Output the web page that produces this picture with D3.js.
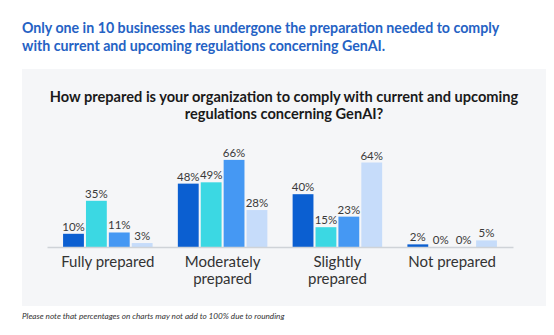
<!DOCTYPE html>
<html>
<head>
<meta charset="utf-8">
<script src="https://cdn.jsdelivr.net/npm/d3@7"></script>
<style>
  body { margin: 0; background: #fff; }
  svg { display: block; }
</style>
</head>
<body>
<div id="chart"></div>
<script>
// data
const categories = [["Fully prepared"], ["Moderately", "prepared"], ["Slightly", "prepared"], ["Not prepared"]]
const seriesNames = ["s1", "s2", "s3", "s4"]
const s1 = [10, 48, 40, 2]
const s2 = [35, 49, 15, 0]
const s3 = [11, 66, 23, 0]
const s4 = [3, 28, 64, 5]
const colors = ["#0b5fd1", "#3bd8e3", "#4598f3", "#c6dcfa"]

const W = 554, H = 335
const svg = d3.select('#chart').append('svg')
  .attr('width', W).attr('height', H)

// panel
svg.append('rect')
  .attr('x', 22).attr('y', 69).attr('width', 524).attr('height', 237)
  .attr('fill', '#f5f6f8')

// headline
const head = svg.append('text')
  .attr('x', 22).attr('fill', '#2562c4')
  .style('font-family', 'Lato').style('font-weight', 700).style('font-size', '14.2px')
head.append('tspan').attr('x', 22).attr('y', 33).text('Only one in 10 businesses has undergone the preparation needed to comply')
head.append('tspan').attr('x', 22).attr('y', 51).text('with current and upcoming regulations concerning GenAI.')

// chart title
const sub = svg.append('text')
  .attr('text-anchor', 'middle').attr('fill', '#1a1a1a')
  .style('font-family', 'Lato').style('font-weight', 700).style('font-size', '14.6px')
sub.append('tspan').attr('x', 284).attr('y', 102).text('How prepared is your organization to comply with current and upcoming')
sub.append('tspan').attr('x', 284).attr('y', 119).text('regulations concerning GenAI?')

// scales
const x0 = d3.scaleBand()
  .domain(d3.range(categories.length))
  .range([47, 513])
  .paddingInner(0.22).paddingOuter(0.14)
const x1 = d3.scaleBand()
  .domain(seriesNames)
  .range([0, x0.bandwidth()])
  .paddingInner(0.09)
const y = d3.scaleLinear().domain([0, 100]).range([247, 115])

const rows = categories.map((c, i) => seriesNames.map((s, j) => ({
  cat: i, key: s, color: colors[j], value: [s1, s2, s3, s4][j][i]
})))

const g = svg.append('g')
const grp = g.selectAll('g.grp').data(rows).enter().append('g')
  .attr('transform', (d, i) => `translate(${x0(i)},0)`)

grp.selectAll('rect').data(d => d).enter().append('rect')
  .attr('x', d => x1(d.key))
  .attr('width', x1.bandwidth())
  .attr('y', d => y(d.value))
  .attr('height', d => y(0) - y(d.value))
  .attr('fill', d => d.color)

grp.selectAll('text').data(d => d).enter().append('text')
  .attr('x', d => x1(d.key) + x1.bandwidth() / 2)
  .attr('y', d => y(d.value) - 3)
  .attr('text-anchor', 'middle')
  .attr('fill', '#3a3a3a')
  .style('font-family', 'Lato').style('font-size', '11.5px')
  .text(d => d.value + '%')

// axis
const xAxis = svg.append('g')
  .attr('transform', `translate(0,${y(0)})`)
  .call(d3.axisBottom(x0).tickSize(0).tickFormat(''))
xAxis.select('.domain').attr('stroke', '#cfd3d8').attr('stroke-width', 1.5)

categories.forEach((lines, i) => {
  const t = svg.append('text')
    .attr('text-anchor', 'middle').attr('fill', '#333')
    .style('font-family', 'Lato').style('font-size', '15px')
  lines.forEach((l, k) => {
    t.append('tspan').attr('x', x0(i) + x0.bandwidth() / 2).attr('y', 267 + k * 17).text(l)
  })
})

// footnote
svg.append('text')
  .attr('x', 22).attr('y', 319).attr('fill', '#333')
  .style('font-family', 'Lato').style('font-style', 'italic').style('font-size', '8.2px')
  .text('Please note that percentages on charts may not add to 100% due to rounding')
</script>
</body>
</html>
